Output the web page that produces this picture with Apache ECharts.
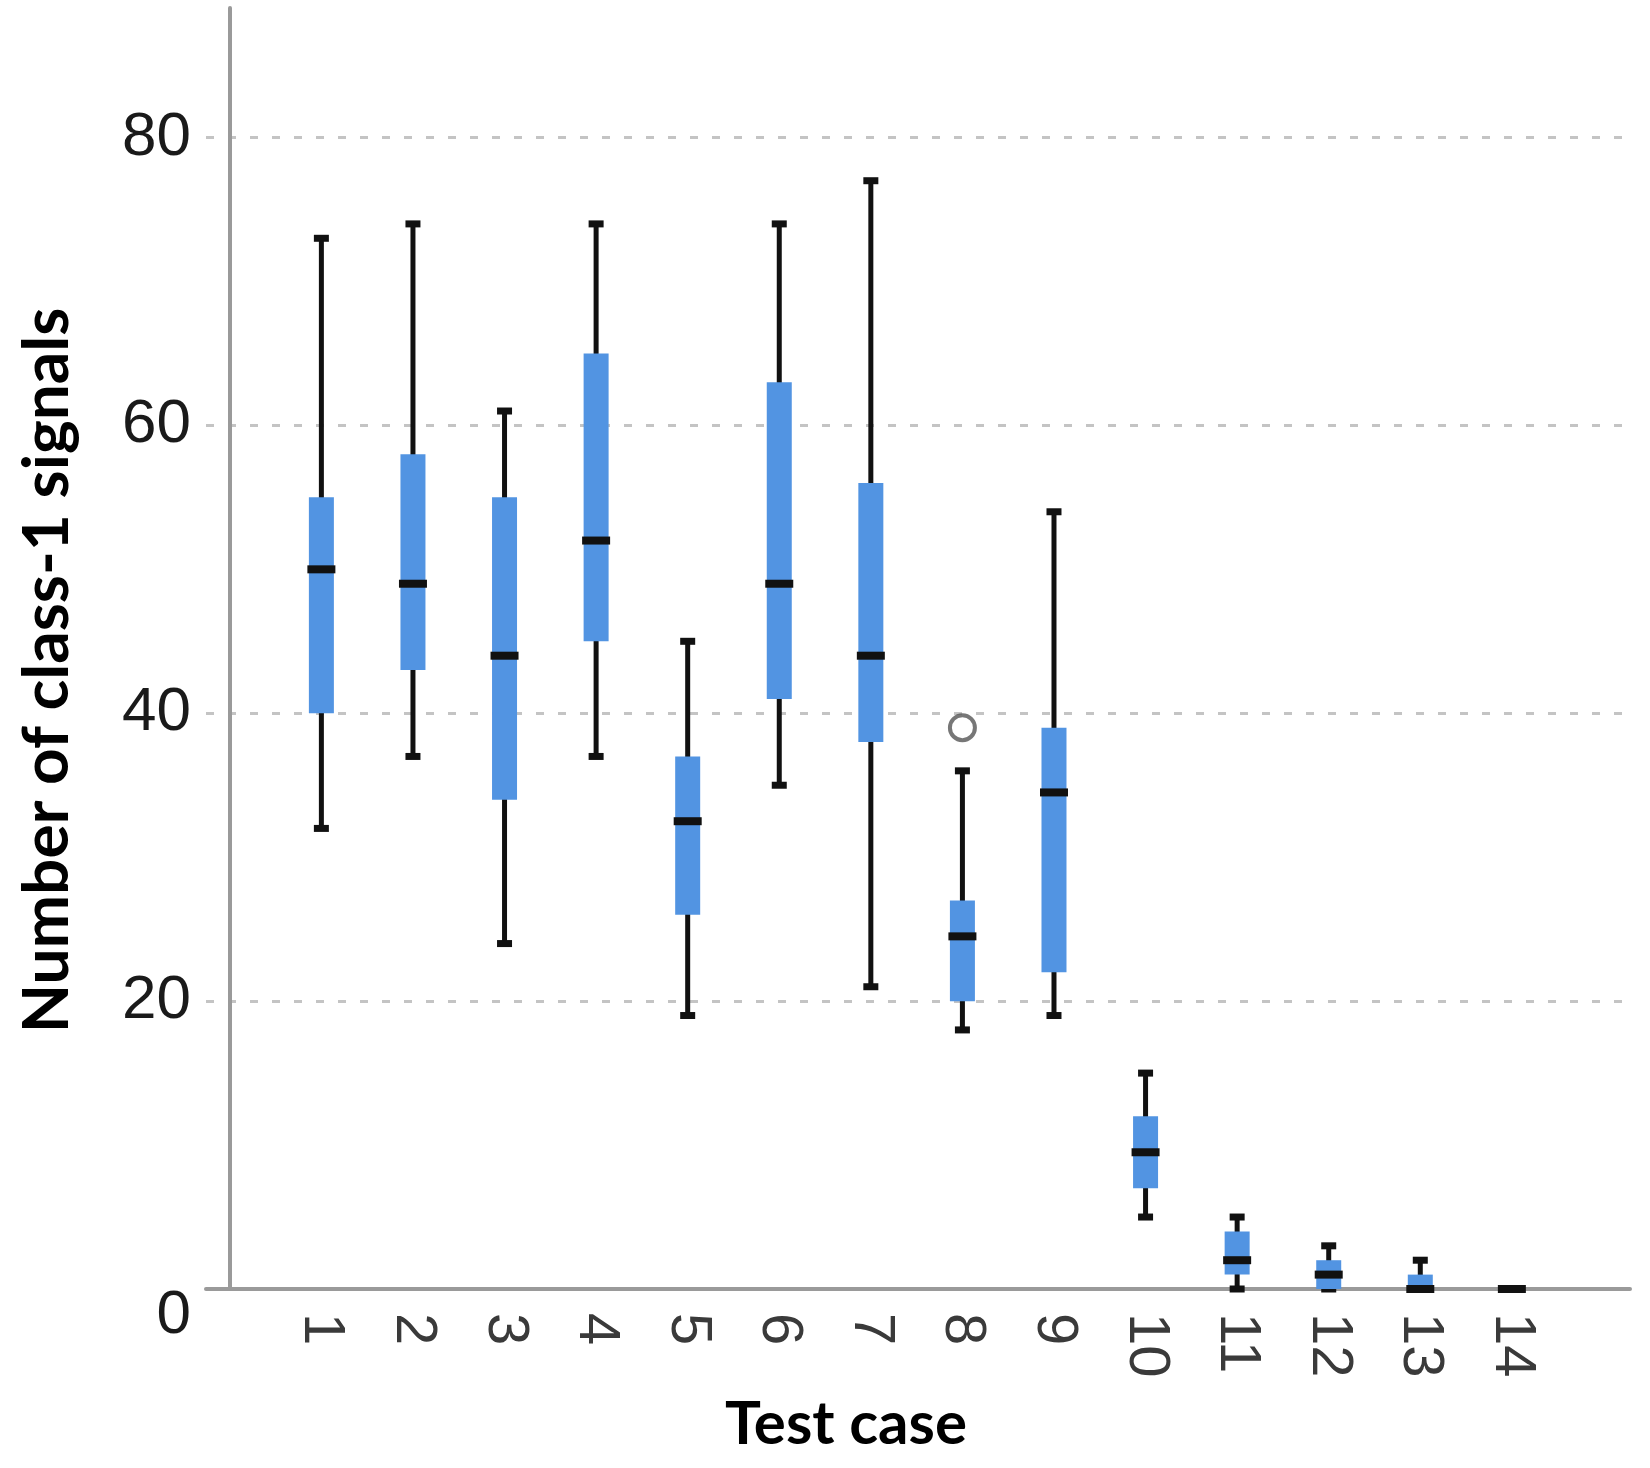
<!DOCTYPE html>
<html>
<head>
<meta charset="utf-8">
<script src="https://cdn.jsdelivr.net/npm/echarts@6/dist/echarts.min.js"></script>
<style>
html,body{margin:0;padding:0;background:#fff;}
#chart{width:1650px;height:1468px;}
</style>
</head>
<body>
<div id="chart"></div>
<script>
// ---- data ----
const categories = ['1','2','3','4','5','6','7','8','9','10','11','12','13','14'];
const whiskerLow  = [32, 37, 24, 37, 19,   35, 21, 18,   19,   5,   0, 0, 0, 0];
const quartile1   = [40, 43, 34, 45, 26,   41, 38, 20,   22,   7,   1, 0, 0, 0];
const medians     = [50, 49, 44, 52, 32.5, 49, 44, 24.5, 34.5, 9.5, 2, 1, 0, 0];
const quartile3   = [55, 58, 55, 65, 37,   63, 56, 27,   39,   12,  4, 2, 1, 0];
const whiskerHigh = [73, 74, 61, 74, 45,   74, 77, 36,   54,   15,  5, 3, 2, 0];
const outlierCase  = ['8'];
const outlierValue = [39];
const yTicks = [0, 20, 40, 60, 80];

const positions = categories.map((c, i) => i + 1);
const boxData = categories.map((c, i) => [positions[i], whiskerLow[i], quartile1[i], medians[i], quartile3[i], whiskerHigh[i]]);
const outlierData = outlierCase.map((c, i) => [categories.indexOf(c) + 1, outlierValue[i]]);

const chart = echarts.init(document.getElementById('chart'), null, {renderer: 'canvas'});

const BLUE = '#5294e2';
const INK = '#111111';

const option = {
  animation: false,
  backgroundColor: '#ffffff',
  grid: {left: 206, right: 20, top: 8, bottom: 179, containLabel: false, outerBoundsMode: 'none'},
  xAxis: {
    type: 'value',
    min: -0.26,
    max: 15.29,
    name: 'Test case',
    nameLocation: 'middle',
    nameGap: 136,
    nameTextStyle: {
      fontFamily: 'Lato', fontWeight: 'bold', fontSize: 60, color: '#000',
      verticalAlign: 'middle', padding: [0, 144, 0, 0]
    },
    axisLine: {show: true, lineStyle: {color: '#9a9a9a', width: 4}},
    axisTick: {show: false},
    splitLine: {show: false},
    axisLabel: {
      customValues: positions,
      rotate: -90,
      margin: 24,
      fontFamily: 'Liberation Sans, Arial, sans-serif',
      fontSize: 58,
      color: '#3a3a3a',
      formatter: function (v) { return categories[Math.round(v) - 1] || ''; }
    }
  },
  yAxis: {
    type: 'value',
    min: 0,
    max: 89,
    interval: 20,
    name: 'Number of class-1 signals',
    nameLocation: 'middle',
    nameRotate: 90,
    nameGap: 127,
    nameTextStyle: {
      fontFamily: 'Lato', fontWeight: 'bold', fontSize: 64, color: '#000',
      padding: [0, 44, 0, 0]
    },
    axisLine: {show: true, lineStyle: {color: '#9a9a9a', width: 4}},
    axisTick: {show: false},
    splitLine: {
      show: true, showMinLine: false, showMaxLine: false,
      lineStyle: {color: '#c4c4c4', width: 3, type: [8, 14]}
    },
    axisLabel: {
      showMaxLabel: false,
      margin: 15,
      fontFamily: 'Liberation Sans, Arial, sans-serif',
      fontSize: 62,
      color: '#1a1a1a',
      formatter: function (v) {
        if (yTicks.indexOf(v) < 0) return '';
        return v === 0 ? '{z|0}' : String(v);
      },
      rich: {
        z: {fontFamily: 'Liberation Sans, Arial, sans-serif', fontSize: 62, color: '#1a1a1a', padding: [54, 0, 0, 0]}
      }
    }
  },
  series: [
    {
      type: 'custom',
      data: boxData,
      encode: {x: 0, y: [1, 2, 3, 4, 5]},
      clip: false,
      renderItem: function (params, api) {
        const x = api.value(0);
        const lo = api.coord([x, api.value(1)]);
        const q1 = api.coord([x, api.value(2)]);
        const md = api.coord([x, api.value(3)]);
        const q3 = api.coord([x, api.value(4)]);
        const hi = api.coord([x, api.value(5)]);
        const cx = lo[0];
        const bw = 25, cw = 15, mw = 28;
        return {
          type: 'group',
          children: [
            {type: 'line', shape: {x1: cx, y1: hi[1], x2: cx, y2: lo[1]}, style: {stroke: INK, lineWidth: 5}},
            {type: 'line', shape: {x1: cx - cw / 2, y1: hi[1], x2: cx + cw / 2, y2: hi[1]}, style: {stroke: INK, lineWidth: 7}},
            {type: 'line', shape: {x1: cx - cw / 2, y1: lo[1], x2: cx + cw / 2, y2: lo[1]}, style: {stroke: INK, lineWidth: 7}},
            {type: 'rect', shape: {x: cx - bw / 2, y: q3[1], width: bw, height: q1[1] - q3[1]}, style: {fill: BLUE}},
            {type: 'line', shape: {x1: cx - mw / 2, y1: md[1], x2: cx + mw / 2, y2: md[1]}, style: {stroke: INK, lineWidth: 8}}
          ]
        };
      }
    },
    {
      type: 'scatter',
      data: outlierData,
      symbol: 'circle',
      symbolSize: 25,
      itemStyle: {color: '#ffffff', borderColor: '#555555', borderWidth: 4},
      z: 5
    }
  ]
};

chart.setOption(option);
</script>
</body>
</html>
